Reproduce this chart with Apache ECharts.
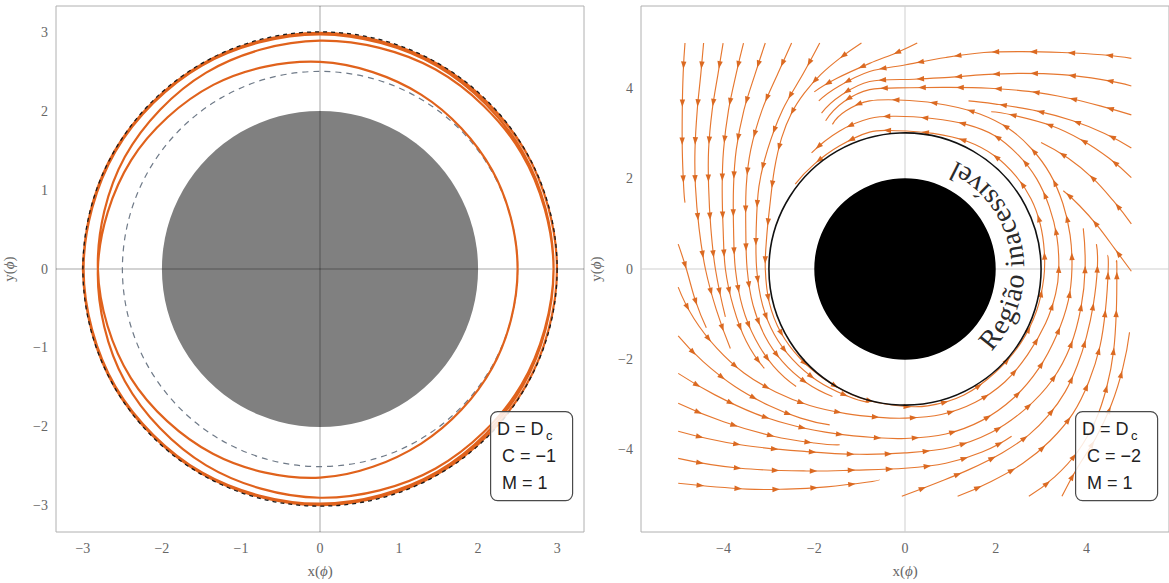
<!DOCTYPE html>
<html><head><meta charset="utf-8">
<script src="https://cdn.jsdelivr.net/npm/echarts@6/dist/echarts.min.js"></script>
<style>html,body{margin:0;padding:0;background:#fff}#c{width:1169px;height:583px}</style>
</head><body><div id="c"></div>
<script>
// ---------------- DATA ----------------
const leftTicks = [-3, -2, -1, 0, 1, 2, 3];
const rightTicks = [-4, -2, 0, 2, 4];
const leftRange = [-3.34, 3.34];
const rightRange = [-5.82, 5.82];

// left panel shapes [cx, cy, r]
const grayDisk = [0, 0, 2];
const dashedCircle = [0, 0, 2.5];
const refCircle = [0, 0, 3];

// orbit r(phi), phi in degrees
const orbitPhi = [-900,-870,-840,-810,-780,-750,-720,-690,-660,-630,-600,-570,-540,-510,-480,-450,-420,-390,-360,-330,-300,-270,-240,-210,-180,-150,-120,-90,-60,-30,0,30,60,90,120,150,180,210,240,270,300,330,360,390,420,450,480,510,540,570,600,630,660,690,720,750,780,810,840,870,900];
const orbitR = [3.000,3.000,3.000,2.999,2.999,2.999,2.998,2.998,2.997,2.996,2.995,2.993,2.991,2.988,2.985,2.980,2.973,2.965,2.955,2.942,2.925,2.900,2.880,2.850,2.810,2.765,2.710,2.650,2.560,2.515,2.500,2.514,2.558,2.630,2.700,2.760,2.810,2.850,2.880,2.905,2.925,2.942,2.955,2.965,2.973,2.980,2.985,2.988,2.991,2.993,2.995,2.996,2.997,2.998,2.998,2.999,2.999,2.999,3.000,3.000,3.000];

// right panel shapes
const blackDisk = [0, 0, 2];
const barrierCircle = [0, 0, 3];
const arcText = 'Região inacessível';
const arcTextRadius = 2.42;
const arcTextCenterDeg = 10.5;

// streamlines (x, y), in flow order
const sF1 = [[-4.85,5.0],[-4.89,4.33],[-4.91,3.52],[-4.91,2.64],[-4.88,1.83],[-4.85,1.47]];
const sF2 = [[-4.44,5.0],[-4.50,4.33],[-4.58,3.52],[-4.63,2.64],[-4.62,1.83],[-4.54,0.9],[-4.40,0.0],[-4.16,-0.9],[-3.85,-1.76]];
const sF3 = [[-4.01,5.0],[-4.12,4.33],[-4.25,3.52],[-4.33,2.64],[-4.33,1.83],[-4.28,0.9],[-4.18,0.0],[-3.96,-1.06]];
const sF4 = [[-3.56,5.0],[-3.72,4.33],[-3.89,3.52],[-4.00,2.64],[-4.03,1.83],[-4.01,0.9],[-3.96,0.0],[-3.78,-0.85],[-3.50,-1.6],[-3.10,-2.2]];
const sF5 = [[-3.08,5.0],[-3.30,4.33],[-3.55,3.52],[-3.72,2.64],[-3.78,1.83],[-3.78,0.9],[-3.74,0.0],[-3.58,-0.85],[-3.30,-1.55],[-2.90,-2.15],[-2.40,-2.6]];
const sF6 = [[-2.50,5.0],[-2.80,4.33],[-3.15,3.52],[-3.40,2.64],[-3.50,1.83],[-3.51,0.9],[-3.48,0.0],[-3.35,-0.8],[-3.08,-1.5],[-2.70,-2.05],[-2.20,-2.5],[-1.60,-2.82]];
const sF7 = [[-1.88,5.0],[-2.24,4.33],[-2.70,3.52],[-3.03,2.64],[-3.22,1.83],[-3.28,0.9],[-3.27,0.0],[-3.14,-0.8],[-2.88,-1.45],[-2.48,-2.0],[-1.95,-2.46],[-1.30,-2.8],[-0.80,-2.95]];
const sF8 = [[-0.96,5.0],[-1.44,4.66],[-1.86,4.30],[-2.22,3.89],[-2.50,3.45],[-2.72,2.9],[-2.88,2.2],[-2.98,1.4],[-3.05,0.7],[-3.08,0.0],[-2.99,-0.75],[-2.74,-1.4],[-2.32,-1.97],[-1.74,-2.46],[-1.00,-2.85],[-0.20,-3.02],[0.50,-3.03],[1.30,-2.79],[2.00,-2.28],[2.55,-1.64],[2.90,-0.93],[3.06,-0.2],[3.07,0.4],[2.98,1.0],[2.78,1.55],[2.45,2.05],[1.98,2.5],[1.38,2.82],[0.62,3.0],[-0.20,3.06],[-0.78,3.03],[-1.45,2.72],[-2.00,2.32],[-2.42,1.88]];
const sT9 = [[0.27,5.0],[-0.20,4.78],[-0.78,4.55],[-1.50,4.22],[-2.00,3.92]];
const sR1 = [[4.99,4.66],[4.34,4.74],[3.46,4.79],[2.58,4.81],[1.74,4.79],[0.90,4.68],[0.02,4.52],[-0.78,4.37],[-1.45,4.05],[-1.90,3.72]];
const sR2 = [[4.99,4.05],[4.34,4.19],[3.46,4.30],[2.58,4.33],[1.74,4.30],[0.97,4.24],[0.20,4.20],[-0.78,4.15],[-1.40,3.85],[-1.84,3.45]];
const sR3 = [[4.99,3.41],[4.34,3.60],[3.61,3.78],[2.73,3.93],[1.86,4.0],[0.98,4.02],[0.10,4.01],[-0.78,3.97],[-1.35,3.70],[-1.75,3.28]];
const sR4 = [[4.99,2.68],[4.40,3.0],[3.70,3.28],[2.90,3.50],[2.00,3.65],[1.40,3.72]];
const sR5 = [[4.99,2.02],[4.50,2.45],[3.90,2.85],[3.20,3.18],[2.40,3.40],[1.90,3.48]];
const sR6 = [[4.99,1.0],[4.60,1.5],[4.15,2.0],[3.60,2.45],[3.00,2.80]];
const sR7 = [[4.99,-0.05],[4.63,0.44],[4.25,0.95],[3.85,1.40],[3.49,1.73]];
const sB1 = [[-0.07,-5.03],[0.68,-4.74],[1.41,-4.44],[2.14,-4.07],[2.73,-3.67],[3.17,-3.23],[3.53,-2.72],[3.80,-2.13],[4.00,-1.5],[4.15,-0.8],[4.24,0.0],[4.22,0.55]];
const sB2 = [[1.16,-5.03],[1.90,-4.70],[2.60,-4.30],[3.20,-3.80],[3.70,-3.20],[4.05,-2.5],[4.30,-1.7],[4.42,-0.9],[4.48,0.0],[4.46,0.3]];
const sB3 = [[2.73,-5.03],[3.30,-4.60],[3.80,-4.05],[4.20,-3.35],[4.45,-2.6],[4.60,-1.8],[4.66,-0.9],[4.67,0.0],[4.66,0.15]];
const sB4 = [[3.46,-5.03],[3.80,-4.40],[4.20,-3.75],[4.55,-3.0],[4.80,-2.2],[4.95,-1.4]];
const sL1 = [[-5.0,0.55],[-4.82,0.0],[-4.62,-0.7],[-4.38,-1.3]];
const sL2 = [[-5.0,-0.40],[-4.65,-1.1],[-4.15,-1.75],[-3.55,-2.3],[-2.85,-2.72],[-2.10,-3.02],[-1.30,-3.2],[-0.60,-3.28],[0.0,-3.3],[0.80,-3.22],[1.55,-2.95],[2.20,-2.5],[2.70,-1.9],[3.10,-1.2],[3.32,-0.55],[3.39,0.0],[3.35,0.7],[3.18,1.38],[2.90,2.0],[2.50,2.52],[1.98,2.95],[1.35,3.2],[0.60,3.33],[-0.20,3.38],[-0.78,3.33],[-1.45,3.05],[-2.06,2.57]];
const sL3 = [[-5.0,-1.48],[-4.45,-2.05],[-3.75,-2.6],[-3.0,-3.02],[-2.30,-3.3],[-1.66,-3.45]];
const sL4 = [[-5.0,-2.31],[-4.20,-2.78],[-3.30,-3.2],[-2.40,-3.48],[-1.50,-3.65],[-0.70,-3.73],[0.0,-3.75],[0.90,-3.65],[1.70,-3.35],[2.40,-2.85],[2.95,-2.2],[3.35,-1.45],[3.60,-0.7],[3.68,0.0],[3.64,0.75],[3.48,1.45],[3.20,2.1],[2.80,2.65],[2.30,3.1],[1.65,3.43],[0.90,3.63],[0.10,3.73],[-0.78,3.72],[-1.30,3.5],[-1.60,3.2]];
const sL5 = [[-5.0,-2.97],[-4.0,-3.38],[-2.90,-3.7],[-2.0,-3.85],[-1.44,-3.89]];
const sL6 = [[-5.0,-3.59],[-3.63,-3.89],[-2.17,-4.04],[-1.0,-4.1],[0.0,-4.07],[1.0,-3.95],[1.90,-3.62],[2.65,-3.1],[3.25,-2.45],[3.65,-1.7],[3.88,-0.85],[3.97,0.0],[3.93,0.9]];
const sL7 = [[-5.0,-4.19],[-3.63,-4.41],[-2.17,-4.47],[-1.10,-4.45],[0.0,-4.41],[0.90,-4.30],[1.70,-4.05],[2.35,-3.70]];
const sL8 = [[-5.0,-4.74],[-3.48,-4.87],[-2.61,-4.87],[-1.73,-4.82],[-0.85,-4.72],[-0.56,-4.66]];

const streamlines = [sF1,sF2,sF3,sF4,sF5,sF6,sF7,sF8,sT9,sR1,sR2,sR3,sR4,sR5,sR6,sR7,sB1,sB2,sB3,sB4,sL1,sL2,sL3,sL4,sL5,sL6,sL7,sL8];

// legend texts
const leftLegend = ['D = D', 'c', 'C = \u22121', 'M = 1'];
const rightLegend = ['D = D', 'c', 'C = \u22122', 'M = 1'];

// ---------------- STYLE / RENDER HELPERS ----------------
const orbitColor = '#E0621C';
const streamColor = '#E6772F';
const arrowColor = '#DB6A22';
const tickFont = 'Liberation Serif';
const fmt = v => (v < 0 ? '\u2212' : '') + Math.abs(v);

// smooth curve through pixel points (Catmull-Rom as cubic Bezier)
function bezierSegments(pts) {
  const n = pts.length;
  const ext = (a, b, c) => [3 * a[0] - 3 * b[0] + c[0], 3 * a[1] - 3 * b[1] + c[1]];
  const first = n >= 3 ? ext(pts[0], pts[1], pts[2]) : pts[0];
  const last = n >= 3 ? ext(pts[n - 1], pts[n - 2], pts[n - 3]) : pts[n - 1];
  const P = i => (i < 0 ? first : (i >= n ? last : pts[i]));
  const segs = [];
  for (let i = 0; i < n - 1; i++) {
    const p0 = P(i - 1), p1 = P(i), p2 = P(i + 1), p3 = P(i + 2);
    segs.push([p1, [p1[0] + (p2[0] - p0[0]) / 6, p1[1] + (p2[1] - p0[1]) / 6], [p2[0] - (p3[0] - p1[0]) / 6, p2[1] - (p3[1] - p1[1]) / 6], p2]);
  }
  return segs;
}
function pathData(pts) {
  const segs = bezierSegments(pts);
  let d = 'M' + pts[0][0].toFixed(2) + ',' + pts[0][1].toFixed(2);
  segs.forEach(s => { d += 'C' + s[1][0].toFixed(2) + ',' + s[1][1].toFixed(2) + ' ' + s[2][0].toFixed(2) + ',' + s[2][1].toFixed(2) + ' ' + s[3][0].toFixed(2) + ',' + s[3][1].toFixed(2); });
  return d;
}
function tracePath(pts) {
  const out = [];
  bezierSegments(pts).forEach((s, k) => {
    for (let j = (k === 0 ? 0 : 1); j <= 16; j++) {
      const t = j / 16, u = 1 - t;
      out.push([u*u*u*s[0][0] + 3*u*u*t*s[1][0] + 3*u*t*t*s[2][0] + t*t*t*s[3][0],
                u*u*u*s[0][1] + 3*u*u*t*s[1][1] + 3*u*t*t*s[2][1] + t*t*t*s[3][1]]);
    }
  });
  return out;
}

function circleItem(style) {
  return function (params, api) {
    const c = api.coord([api.value(0), api.value(1)]);
    const r = api.size([api.value(2), api.value(2)])[0];
    return { type: 'circle', shape: { cx: c[0], cy: c[1], r: r }, style: style };
  };
}
function zeroLineItem(color) {
  return function (params, api) {
    const a = api.coord([api.value(0), api.value(1)]);
    const b = api.coord([api.value(2), api.value(3)]);
    return { type: 'line', shape: { x1: a[0], y1: a[1], x2: b[0], y2: b[1] }, style: { stroke: color, lineWidth: 1 } };
  };
}
function orbitItem(params, api) {
  const pts = orbitPhi.map((p, i) => api.coord([orbitR[i] * Math.cos(p * Math.PI / 180), orbitR[i] * Math.sin(p * Math.PI / 180)]));
  return { type: 'path', shape: { pathData: pathData(pts) }, style: { stroke: orbitColor, lineWidth: 2.2, fill: null } };
}
function streamItem(params, api) {
  const pts = streamlines[api.value(2)].map(p => api.coord(p));
  const children = [{ type: 'path', shape: { pathData: pathData(pts) }, style: { stroke: streamColor, lineWidth: 1.15, fill: null } }];
  const tr = tracePath(pts);
  let total = 0;
  for (let i = 1; i < tr.length; i++) total += Math.hypot(tr[i][0] - tr[i - 1][0], tr[i][1] - tr[i - 1][1]);
  let acc = 0, next = 22;
  for (let i = 1; i < tr.length; i++) {
    const x0 = tr[i - 1][0], y0 = tr[i - 1][1], dx = tr[i][0] - x0, dy = tr[i][1] - y0;
    const L = Math.hypot(dx, dy);
    if (L === 0) continue;
    while (acc + L >= next && next < total - 6) {
      const t = (next - acc) / L, px = x0 + dx * t, py = y0 + dy * t, ux = dx / L, uy = dy / L;
      children.push({ type: 'polygon', shape: { points: [[px + ux * 4, py + uy * 4], [px - ux * 3.5 - uy * 2.7, py - uy * 3.5 + ux * 2.7], [px - ux * 3.5 + uy * 2.7, py - uy * 3.5 - ux * 2.7]] }, style: { fill: arrowColor } });
      next += 38;
    }
    acc += L;
  }
  return { type: 'group', children: children };
}
function arcTextItem(params, api) {
  const font = '28px "Liberation Serif"';
  const c = api.coord([0, 0]);
  const R = api.size([arcTextRadius, arcTextRadius])[0];
  const ctx = document.createElement('canvas').getContext('2d');
  ctx.font = font;
  const chars = Array.from(arcText);
  const w = chars.map(ch => ctx.measureText(ch).width);
  const W = w.reduce((a, b) => a + b, 0);
  const thC = arcTextCenterDeg * Math.PI / 180;
  let s = 0;
  const children = chars.map((ch, i) => {
    const sc = s + w[i] / 2; s += w[i];
    const th = thC + (sc - W / 2) / R;
    return { type: 'text', x: c[0] + R * Math.cos(th), y: c[1] - R * Math.sin(th), rotation: th + Math.PI / 2,
      style: { text: ch, font: font, fill: '#2a2a2a', align: 'center', verticalAlign: 'middle', textAlign: 'center', textVerticalAlign: 'middle' } };
  });
  return { type: 'group', children: children };
}

function axisX(grid, range, ticks) {
  return { gridIndex: grid, type: 'value', min: range[0], max: range[1],
    axisLine: { show: false }, axisTick: { show: false }, splitLine: { show: false },
    axisLabel: { customValues: ticks, formatter: fmt, color: '#666', fontFamily: tickFont, fontSize: 14, margin: 9 },
    name: '{n|x(}{i|\u03d5}{n|)}', nameLocation: 'middle', nameGap: 31,
    nameTextStyle: { rich: { n: { fontFamily: tickFont, fontSize: 15, color: '#666' }, i: { fontFamily: tickFont, fontSize: 15, color: '#666', fontStyle: 'italic' } } } };
}
function axisY(grid, range, ticks, gap) {
  return { gridIndex: grid, type: 'value', min: range[0], max: range[1],
    axisLine: { show: false }, axisTick: { show: false }, splitLine: { show: false },
    axisLabel: { customValues: ticks, formatter: fmt, color: '#666', fontFamily: tickFont, fontSize: 14, margin: 8 },
    name: '{n|y(}{i|\u03d5}{n|)}', nameLocation: 'middle', nameGap: gap,
    nameTextStyle: { rich: { n: { fontFamily: tickFont, fontSize: 15, color: '#666' }, i: { fontFamily: tickFont, fontSize: 15, color: '#666', fontStyle: 'italic' } } } };
}

function legendGraphic(x0, texts) {
  const f = '18px "Liberation Sans"';
  return [
    { type: 'rect', left: x0, top: 411, shape: { width: 82, height: 89, r: 7 }, style: { fill: 'rgba(255,255,255,0.85)', stroke: '#4a4a4a', lineWidth: 1.2 }, z: 100 },
    { type: 'text', x: x0 + 7, y: 429, style: { text: texts[0], font: f, fill: '#222', textVerticalAlign: 'middle', verticalAlign: 'middle' }, z: 101 },
    { type: 'text', x: x0 + 56, y: 435, style: { text: texts[1], font: '13px "Liberation Sans"', fill: '#222', textVerticalAlign: 'middle', verticalAlign: 'middle' }, z: 101 },
    { type: 'text', x: x0 + 12, y: 456, style: { text: texts[2], font: f, fill: '#222', textVerticalAlign: 'middle', verticalAlign: 'middle' }, z: 101 },
    { type: 'text', x: x0 + 12, y: 482.5, style: { text: texts[3], font: f, fill: '#222', textVerticalAlign: 'middle', verticalAlign: 'middle' }, z: 101 }
  ];
}

const chart = echarts.init(document.getElementById('c'), null, { renderer: 'svg', width: 1169, height: 583 });
chart.setOption({
  animation: false,
  backgroundColor: '#fff',
  grid: [
    { left: 55, top: 6, width: 529, height: 529, show: true, borderColor: '#b0b0b0', borderWidth: 1, backgroundColor: 'transparent' },
    { left: 641, top: 6, width: 529, height: 529, show: true, borderColor: '#b0b0b0', borderWidth: 1, backgroundColor: 'transparent' }
  ],
  xAxis: [axisX(0, leftRange, leftTicks), axisX(1, rightRange, rightTicks)],
  yAxis: [axisY(0, leftRange, leftTicks, 40), axisY(1, rightRange, rightTicks, 38)],
  series: [
    { type: 'custom', xAxisIndex: 0, yAxisIndex: 0, z: 1, renderItem: circleItem({ fill: '#808080' }), data: [grayDisk] },
    { type: 'custom', xAxisIndex: 0, yAxisIndex: 0, z: 2, renderItem: zeroLineItem('rgba(0,0,0,0.35)'),
      data: [[leftRange[0], 0, leftRange[1], 0], [0, leftRange[0], 0, leftRange[1]]] },
    { type: 'custom', xAxisIndex: 0, yAxisIndex: 0, z: 3, renderItem: circleItem({ fill: null, stroke: '#6f7a88', lineWidth: 1.2, lineDash: [6, 5] }), data: [dashedCircle] },
    { type: 'custom', xAxisIndex: 0, yAxisIndex: 0, z: 4, renderItem: orbitItem, data: [[0, 0]] },
    { type: 'custom', xAxisIndex: 0, yAxisIndex: 0, z: 5, renderItem: circleItem({ fill: null, stroke: '#1a1a1a', lineWidth: 1.3, lineDash: [4, 4] }), data: [refCircle] },

    { type: 'custom', xAxisIndex: 1, yAxisIndex: 1, z: 1, renderItem: zeroLineItem('#cfcfcf'),
      data: [[rightRange[0], 0, rightRange[1], 0], [0, rightRange[0], 0, rightRange[1]]] },
    { type: 'custom', xAxisIndex: 1, yAxisIndex: 1, z: 2, renderItem: streamItem, data: streamlines.map((s, i) => [0, 0, i]) },
    { type: 'custom', xAxisIndex: 1, yAxisIndex: 1, z: 3, renderItem: circleItem({ fill: null, stroke: '#111', lineWidth: 1.6 }), data: [barrierCircle] },
    { type: 'custom', xAxisIndex: 1, yAxisIndex: 1, z: 3, renderItem: circleItem({ fill: '#000' }), data: [blackDisk] },
    { type: 'custom', xAxisIndex: 1, yAxisIndex: 1, z: 4, renderItem: arcTextItem, data: [[0, 0]] }
  ],
  graphic: legendGraphic(490, leftLegend).concat(legendGraphic(1075, rightLegend))
});
</script>
</body></html>
